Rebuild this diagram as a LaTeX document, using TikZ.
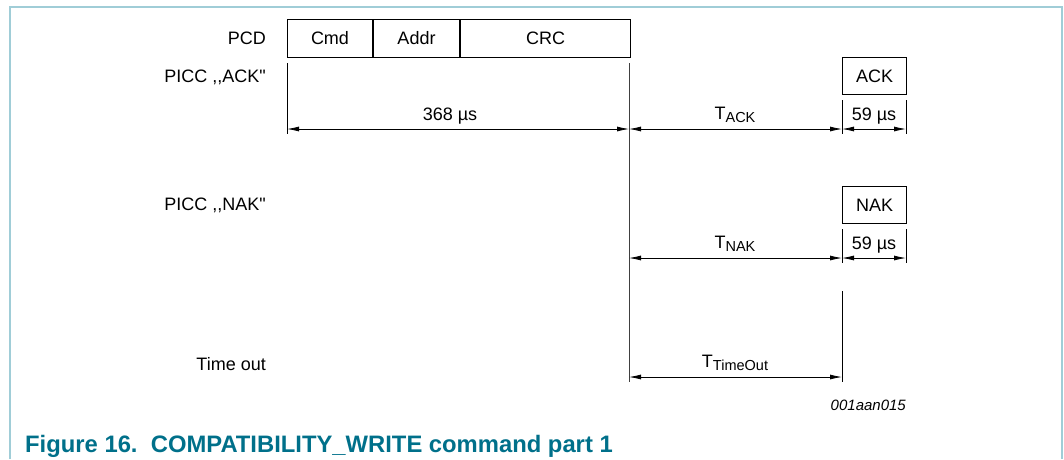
\documentclass[tikz,border=0pt]{standalone}
\usepackage{fontspec}
\setmainfont{Liberation Sans}
\newfontfamily\qfont[Ligatures=TeXOff]{Liberation Sans}
\usetikzlibrary{arrows.meta}
\definecolor{framecol}{RGB}{160,205,215}
\definecolor{capcol}{RGB}{0,112,138}
\begin{document}
\begin{tikzpicture}[x=1pt,y=-1pt,
  every node/.style={font=\fontsize{18}{21}\selectfont, inner sep=0pt},
  box/.style={draw, line width=1pt, minimum height=38pt, anchor=north west},
  lbl/.style={anchor=east},
  tick/.style={line width=0.8pt},
  dim/.style={line width=0.8pt, {Latex[length=12pt,width=5pt]}-{Latex[length=12pt,width=5pt]}}]
\useasboundingbox (0,0) rectangle (1064,459);
% frame
\draw[framecol, line width=1.2pt] (10,459) -- (10,7) -- (1062,7) -- (1062,459);
% labels
\node[lbl] (lpcd) at (266,38) {PCD};
\node[lbl] (lack) at (266,77) {PICC {\qfont,,ACK"}};
\node[lbl] (lnak) at (266,205) {PICC {\qfont,,NAK"}};
\node[lbl] (lto) at (266,364) {Time out};
% PCD frame
\node[box, minimum width=85pt] (cmd) at (287,19) {Cmd};
\node[box, minimum width=86pt] (addr) at (cmd.north east) {Addr};
\node[box, minimum width=170pt] (crc) at (addr.north east) {CRC};
% ACK / NAK boxes
\node[box, minimum width=64pt, minimum height=37pt] (ack) at (842,57) {ACK};
\node[box, minimum width=64pt, minimum height=37pt] (nak) at (842,186) {NAK};
% vertical lines
\coordinate (v0t) at (287,63); \coordinate (v0b) at (287,134);
\coordinate (v1t) at (629,63); \coordinate (v1b) at (629,382);
\coordinate (v2t) at (842,291); \coordinate (v2b) at (842,382);
\draw[tick] (v0t) -- (v0b);
\draw[line width=1pt, black!75] (v1t) -- (v1b);
\draw[tick] (v2t) -- (v2b);
% 59us ticks
\coordinate (a1t) at (842,100); \coordinate (a1b) at (842,134);
\coordinate (a2t) at (906,100); \coordinate (a2b) at (906,134);
\coordinate (n1t) at (842,229); \coordinate (n1b) at (842,263);
\coordinate (n2t) at (906,229); \coordinate (n2b) at (906,263);
\draw[tick] (a1t) -- (a1b); \draw[tick] (a2t) -- (a2b);
\draw[tick] (n1t) -- (n1b); \draw[tick] (n2t) -- (n2b);
% dimension arrows
\coordinate (d1a) at (287,129); \coordinate (d1b) at (629,129);
\coordinate (d2a) at (629,129); \coordinate (d2b) at (842,129);
\coordinate (d3a) at (842,129); \coordinate (d3b) at (906,129);
\coordinate (d4a) at (629,258); \coordinate (d4b) at (842,258);
\coordinate (d5a) at (842,258); \coordinate (d5b) at (906,258);
\coordinate (d6a) at (629,377); \coordinate (d6b) at (842,377);
\draw[dim] (d1a) -- (d1b);
\draw[dim] (d2a) -- (d2b);
\draw[dim] (d3a) -- (d3b);
\draw[dim] (d4a) -- (d4b);
\draw[dim] (d5a) -- (d5b);
\draw[dim] (d6a) -- (d6b);
% dimension labels
\node (t368) at (450,116) {368 µs};
\node (tack) at (735,115) {T\raisebox{-0.35ex}{\fontsize{14.5}{16}\selectfont ACK}};
\node (t59a) at (874,116) {59 µs};
\node (tnak) at (735,244) {T\raisebox{-0.35ex}{\fontsize{14.5}{16}\selectfont NAK}};
\node (t59n) at (874,245) {59 µs};
\node (tto) at (735,363) {T\raisebox{-0.35ex}{\fontsize{14.5}{16}\selectfont TimeOut}};
\node[anchor=east, font=\itshape\fontsize{15}{18}\selectfont] (code) at (906,405) {001aan015};
% caption
\node[anchor=base west, font=\bfseries\fontsize{23.8}{28}\selectfont, text=capcol] (cap) at (25,452) {Figure 16.\ \ COMPATIBILITY\_WRITE command part 1};
\end{tikzpicture}
\end{document}
